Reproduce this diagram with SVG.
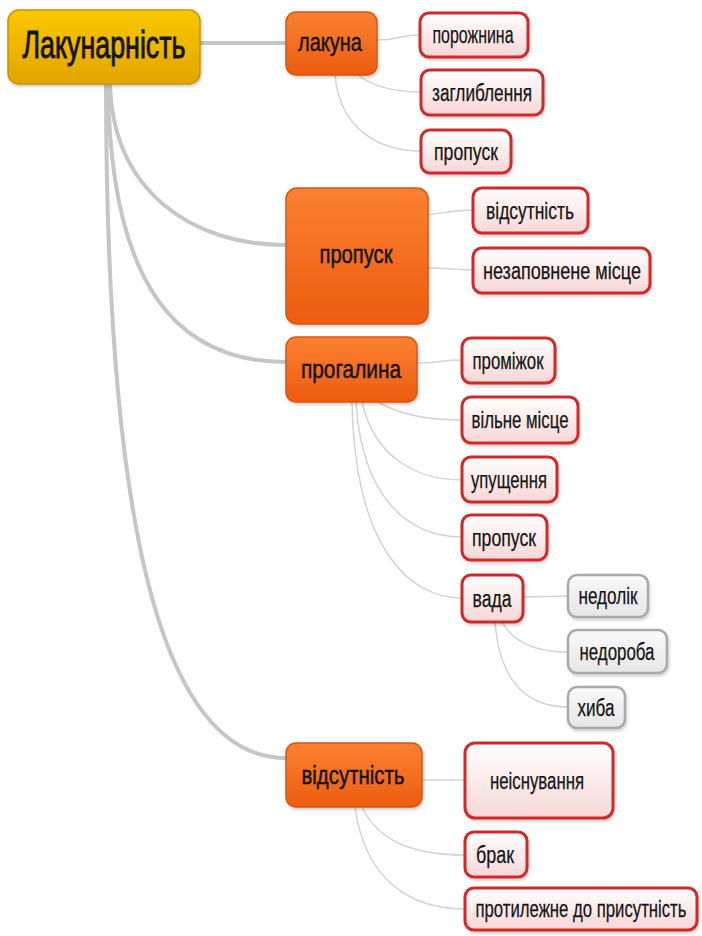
<svg xmlns="http://www.w3.org/2000/svg" width="702" height="936" viewBox="0 0 702 936">
  <defs>
    <linearGradient id="gRoot" x1="0" y1="0" x2="0" y2="1">
      <stop offset="0" stop-color="#fbc805"/>
      <stop offset="1" stop-color="#e0a400"/>
    </linearGradient>
    <linearGradient id="gMain" x1="0" y1="0" x2="0" y2="1">
      <stop offset="0" stop-color="#fb8132"/>
      <stop offset="1" stop-color="#ec5c10"/>
    </linearGradient>
    <linearGradient id="gLeaf" x1="0" y1="0" x2="0" y2="1">
      <stop offset="0" stop-color="#ffffff"/>
      <stop offset="1" stop-color="#f8d6d6"/>
    </linearGradient>
    <linearGradient id="gGrey" x1="0" y1="0" x2="0" y2="1">
      <stop offset="0" stop-color="#fafafa"/>
      <stop offset="1" stop-color="#e6e6e6"/>
    </linearGradient>
    <filter id="shadow" x="-10%" y="-10%" width="130%" height="140%">
      <feDropShadow dx="1" dy="2" stdDeviation="1.5" flood-color="#000" flood-opacity="0.2"/>
    </filter>
  </defs>
  <style>
    text { font-family: "Liberation Sans", Arial, sans-serif; fill: #141414; text-anchor: middle; }
    .root rect { fill: url(#gRoot); stroke: #c99200; stroke-width: 1.5; filter: url(#shadow); }
    .main rect { fill: url(#gMain); stroke: #d9560e; stroke-width: 1.5; filter: url(#shadow); }
    .leaf rect { fill: url(#gLeaf); stroke: #cf2b2b; stroke-width: 3; filter: url(#shadow); }
    .grey rect { fill: url(#gGrey); stroke: #a9a9a9; stroke-width: 2.5; filter: url(#shadow); }
    .root text { font-size: 38px; stroke: #141414; stroke-width: 0.9; }
    .main text { font-size: 26px; stroke: #141414; stroke-width: 0.5; }
    .leaf text, .grey text { font-size: 23px; stroke: #141414; stroke-width: 0.25; }
    .trunk { fill: none; stroke: #c6c6c6; stroke-width: 4; stroke-linecap: round; }
    .twig { fill: none; stroke: #d3d3d3; stroke-width: 1.5; }
  </style>

  <g id="connectors">
    <!-- root to first-level topics -->
    <path class="trunk" d="M200 43 L286 43"/>
    <path class="trunk" d="M110 84 C113 190 190 245 286 245"/>
    <path class="trunk" d="M108 84 C110 290 180 362 286 362"/>
    <path class="trunk" d="M106 84 C106 560 170 758 286 758"/>
    <!-- лакуна -->
    <path class="twig" d="M377 40 C398 40 400 35 420 35"/>
    <path class="twig" d="M358 75 C375 88 400 92 421 92"/>
    <path class="twig" d="M335 75 C340 130 380 151 421 151"/>
    <!-- пропуск -->
    <path class="twig" d="M428 215 C450 212 455 210 473 210"/>
    <path class="twig" d="M428 268 C450 268 455 270 473 270"/>
    <!-- прогалина -->
    <path class="twig" d="M417 363 C440 363 440 360 462 360"/>
    <path class="twig" d="M378 402 C400 415 430 420 462 420"/>
    <path class="twig" d="M362 402 C375 460 420 480 462 480"/>
    <path class="twig" d="M356 402 C362 500 410 537 462 537"/>
    <path class="twig" d="M352 402 C355 550 410 598 462 598"/>
    <!-- вада -->
    <path class="twig" d="M523 597 L568 596"/>
    <path class="twig" d="M502 622 C515 645 540 652 568 652"/>
    <path class="twig" d="M495 622 C500 685 530 707 568 707"/>
    <!-- відсутність -->
    <path class="twig" d="M422 780 L465 780"/>
    <path class="twig" d="M362 807 C380 845 420 855 465 855"/>
    <path class="twig" d="M355 807 C365 880 410 909 465 909"/>
  </g>

  <g id="root" class="root">
    <rect x="8" y="10" width="192" height="74" rx="11"/>
    <text x="104" y="58" textLength="163" lengthAdjust="spacingAndGlyphs">Лакунарність</text>
  </g>

  <g id="lakuna" class="main">
    <rect x="286" y="12" width="91" height="63" rx="10"/>
    <text x="330" y="51" textLength="64" lengthAdjust="spacingAndGlyphs">лакуна</text>
  </g>
  <g id="lakuna-porozhnyna" class="leaf">
    <rect x="420" y="13" width="108" height="44" rx="9"/>
    <text x="473" y="43" textLength="81" lengthAdjust="spacingAndGlyphs">порожнина</text>
  </g>
  <g id="lakuna-zahlyblennia" class="leaf">
    <rect x="421" y="70" width="122" height="45" rx="9"/>
    <text x="482" y="101" textLength="100" lengthAdjust="spacingAndGlyphs">заглиблення</text>
  </g>
  <g id="lakuna-propusk" class="leaf">
    <rect x="421" y="130" width="90" height="43" rx="9"/>
    <text x="466" y="160" textLength="64" lengthAdjust="spacingAndGlyphs">пропуск</text>
  </g>

  <g id="propusk" class="main">
    <rect x="286" y="188" width="142" height="136" rx="11"/>
    <text x="356" y="263" textLength="73" lengthAdjust="spacingAndGlyphs">пропуск</text>
  </g>
  <g id="propusk-vidsutnist" class="leaf">
    <rect x="473" y="188" width="115" height="45" rx="9"/>
    <text x="530" y="219" textLength="88" lengthAdjust="spacingAndGlyphs">відсутність</text>
  </g>
  <g id="propusk-nezapovnene" class="leaf">
    <rect x="473" y="248" width="177" height="45" rx="9"/>
    <text x="562" y="279" textLength="158" lengthAdjust="spacingAndGlyphs">незаповнене місце</text>
  </g>

  <g id="prohalyna" class="main">
    <rect x="286" y="337" width="131" height="65" rx="10"/>
    <text x="351" y="378" textLength="100" lengthAdjust="spacingAndGlyphs">прогалина</text>
  </g>
  <g id="prohalyna-promizhok" class="leaf">
    <rect x="462" y="338" width="93" height="45" rx="9"/>
    <text x="508" y="369" textLength="71" lengthAdjust="spacingAndGlyphs">проміжок</text>
  </g>
  <g id="prohalyna-vilne" class="leaf">
    <rect x="462" y="397" width="116" height="46" rx="9"/>
    <text x="520" y="428" textLength="97" lengthAdjust="spacingAndGlyphs">вільне місце</text>
  </g>
  <g id="prohalyna-upushchennia" class="leaf">
    <rect x="462" y="457" width="95" height="45" rx="9"/>
    <text x="509" y="488" textLength="76" lengthAdjust="spacingAndGlyphs">упущення</text>
  </g>
  <g id="prohalyna-propusk" class="leaf">
    <rect x="462" y="515" width="85" height="45" rx="9"/>
    <text x="504" y="546" textLength="64" lengthAdjust="spacingAndGlyphs">пропуск</text>
  </g>
  <g id="prohalyna-vada" class="leaf">
    <rect x="462" y="575" width="61" height="47" rx="9"/>
    <text x="492" y="607" textLength="39" lengthAdjust="spacingAndGlyphs">вада</text>
  </g>
  <g id="vada-nedolik" class="grey">
    <rect x="568" y="575" width="80" height="42" rx="9"/>
    <text x="608" y="604" textLength="59" lengthAdjust="spacingAndGlyphs">недолік</text>
  </g>
  <g id="vada-nedoroba" class="grey">
    <rect x="568" y="630" width="99" height="43" rx="9"/>
    <text x="617" y="660" textLength="75" lengthAdjust="spacingAndGlyphs">недороба</text>
  </g>
  <g id="vada-khyba" class="grey">
    <rect x="568" y="687" width="57" height="41" rx="9"/>
    <text x="596" y="716" textLength="37" lengthAdjust="spacingAndGlyphs">хиба</text>
  </g>

  <g id="vidsutnist" class="main">
    <rect x="286" y="743" width="136" height="64" rx="10"/>
    <text x="353" y="784" textLength="103" lengthAdjust="spacingAndGlyphs">відсутність</text>
  </g>
  <g id="vidsutnist-neisnuvannia" class="leaf">
    <rect x="465" y="743" width="148" height="75" rx="10"/>
    <text x="537" y="789" textLength="94" lengthAdjust="spacingAndGlyphs">неіснування</text>
  </g>
  <g id="vidsutnist-brak" class="leaf">
    <rect x="465" y="832" width="62" height="45" rx="9"/>
    <text x="495" y="863" textLength="38" lengthAdjust="spacingAndGlyphs">брак</text>
  </g>
  <g id="vidsutnist-protylezhne" class="leaf">
    <rect x="465" y="888" width="232" height="42" rx="9"/>
    <!-- long label: squeezed horizontally so it stays inside its box -->
    <text transform="translate(581 917) scale(0.73 1)" x="0" y="0" textLength="289" lengthAdjust="spacingAndGlyphs">протилежне до присутність</text>
  </g>
</svg>
